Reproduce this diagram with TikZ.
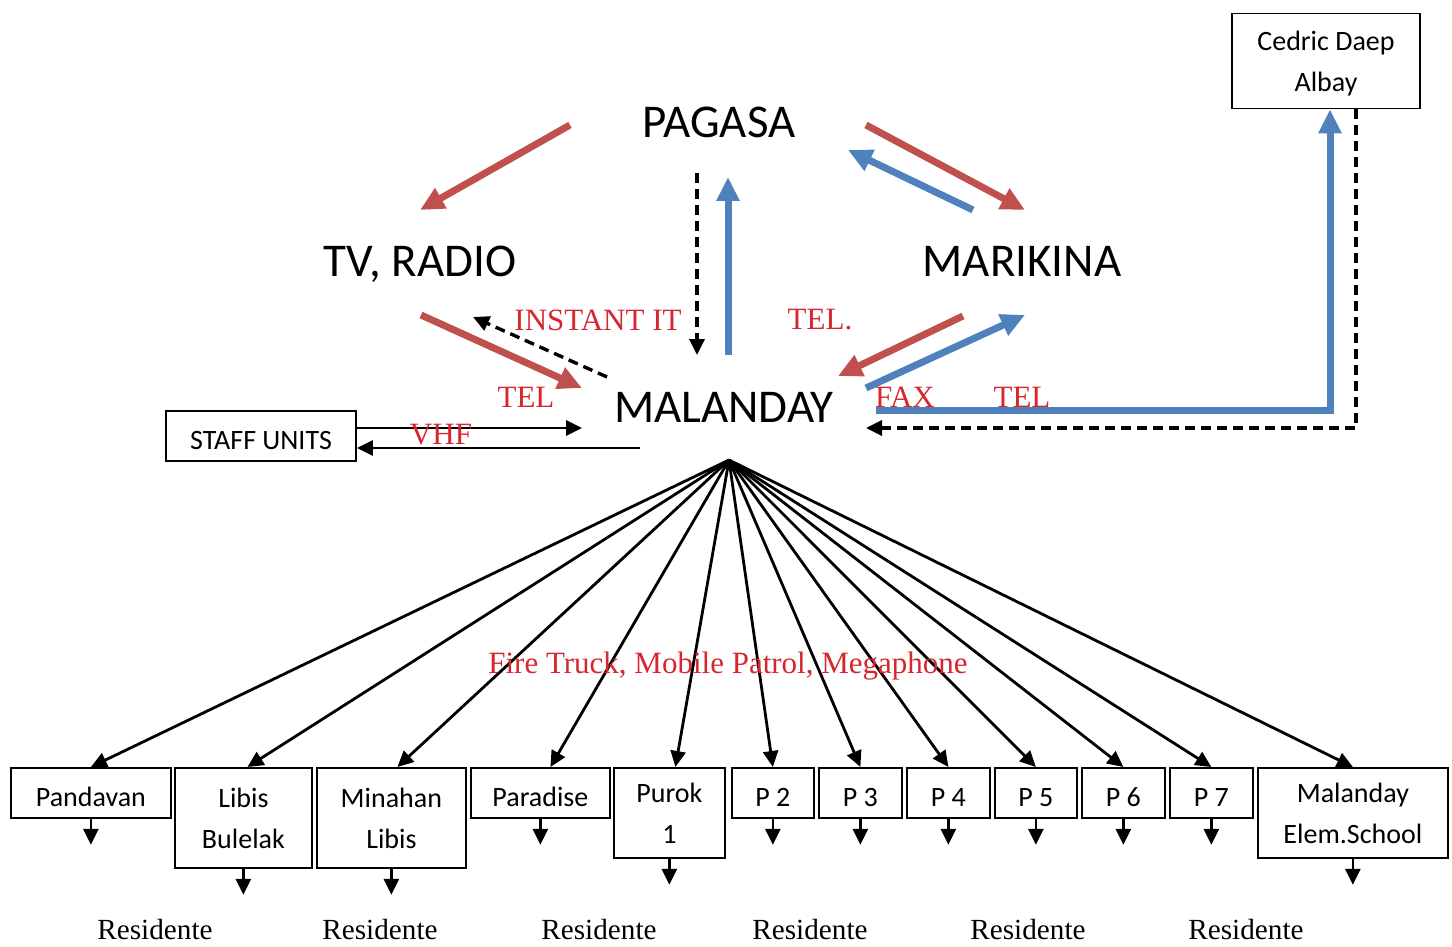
\documentclass[tikz,border=0pt]{standalone}
\usepackage{fontspec}
\setmainfont{Liberation Serif}
\newfontfamily\calibri{Carlito}
\usetikzlibrary{arrows.meta}
\definecolor{linkred}{RGB}{192,80,77}
\definecolor{linkblue}{RGB}{79,129,189}
\definecolor{labelred}{RGB}{214,38,46}
\tikzset{
  big/.style={font=\calibri\fontsize{23.5}{28}\selectfont, text depth=0pt},
  box/.style={draw, line width=0.9pt, anchor=north west, inner sep=0pt, align=center,
    font=\calibri\fontsize{14}{20.5}\selectfont},
  onebox/.style={box, text height=13.5pt, text depth=0pt},
  tag/.style={text=labelred, font=\fontsize{15.5}{18}\selectfont},
  res/.style={font=\fontsize{14.6}{17}\selectfont},
  redarr/.style={linkred, line width=3.5pt, -{Triangle[length=12pt,width=11pt]}},
  bluearr/.style={linkblue, line width=3.5pt, -{Triangle[length=12pt,width=11pt]}},
  blk/.style={line width=1.4pt, -{Triangle[length=8pt,width=7.5pt]}},
  blkdash/.style={blk, line width=1.7pt, dash pattern=on 5pt off 3pt},
}
\begin{document}
\begin{tikzpicture}[x=0.5pt, y=-0.5pt]
      \useasboundingbox (0,0) rectangle (1452,947);
      \node[big] (pagasa) at (719,122) {PAGASA};
      \node[big] (tv) at (420,261) {TV, RADIO};
      \node[big] (marikina) at (1022,261) {MARIKINA};
      \node[big] (malanday) at (724,407) {MALANDAY};
      \node[box, anchor=center, text depth=0pt, minimum width=94pt, minimum height=47.5pt] (cedric) at (1326,61) {Cedric Daep\\Albay};
      \node[onebox, anchor=center, minimum width=95pt, minimum height=25pt] (staff) at (261,436) {STAFF UNITS};
      \coordinate (hub) at (729,460);
      % barangay units
      \node[onebox, minimum width=80pt, minimum height=25pt] (pandavan) at (10,767) {Pandavan};
      \node[box, minimum width=68.5pt, minimum height=50pt] (libis) at (174,767) {Libis\\Bulelak};
      \node[box, minimum width=74.5pt, minimum height=50pt] (minahan) at (316,767) {Minahan\\Libis};
      \node[onebox, minimum width=69.5pt, minimum height=25pt] (paradise) at (470,767) {Paradise};
      \node[box, minimum width=55.5pt, minimum height=45pt] (purok) at (613,767) {Purok\\1};
      \node[onebox, minimum width=41pt, minimum height=25pt] (ptwo) at (731,767) {P 2};
      \node[onebox, minimum width=41.5pt, minimum height=25pt] (pthree) at (818,767) {P 3};
      \node[onebox, minimum width=41.5pt, minimum height=25pt] (pfour) at (906,767) {P 4};
      \node[onebox, minimum width=41pt, minimum height=25pt] (pfive) at (994,767) {P 5};
      \node[onebox, minimum width=41.5pt, minimum height=25pt] (psix) at (1081,767) {P 6};
      \node[onebox, minimum width=41.5pt, minimum height=25pt] (pseven) at (1169,767) {P 7};
      \node[box, minimum width=95pt, minimum height=45pt] (school) at (1257,767) {Malanday\\Elem.School};
      \node[res] (resA) at (155,930) {Residente};
      \node[res] (resB) at (380,930) {Residente};
      \node[res] (resC) at (599,930) {Residente};
      \node[res] (resD) at (810,930) {Residente};
      \node[res] (resE) at (1028,930) {Residente};
      \node[res] (resF) at (1246,930) {Residente};
      % links between offices
      \draw[redarr] ([shift={(-149,3)}]pagasa.center) -- ([shift={(0,-51)}]tv.center);
      \draw[redarr] ([shift={(147,3)}]pagasa.center) -- ([shift={(3,-51)}]marikina.center);
      \draw[bluearr] ([shift={(-49,-51)}]marikina.center) -- ([shift={(129,28)}]pagasa.center);
      \draw[blkdash] ([shift={(-22,51)}]pagasa.center) -- ([shift={(-27,-52)}]malanday.center);
      \draw[bluearr] ([shift={(4,-52)}]malanday.center) -- ([shift={(9,55)}]pagasa.center);
      \draw[redarr] ([shift={(1,54)}]tv.center) -- ([shift={(-142,-19)}]malanday.center);
      \draw[blkdash] ([shift={(-117,-30)}]malanday.center) -- ([shift={(53,56)}]tv.center);
      \draw[redarr] ([shift={(-59,55)}]marikina.center) -- ([shift={(114,-31)}]malanday.center);
      \draw[bluearr] ([shift={(142,-19)}]malanday.center) -- ([shift={(3,54)}]marikina.center);
      \draw[bluearr] ([shift={(152,3)}]malanday.center) -| ([shift={(4,0)}]cedric.south);
      \draw[blkdash] ([shift={(30,0)}]cedric.south) |- ([shift={(142,21)}]malanday.center);
      \draw[blk] ([shift={(0,-8)}]staff.east) -- ([shift={(-142,21)}]malanday.center);
      \draw[blk] ([shift={(-84,41)}]malanday.center) -- ([shift={(0,12)}]staff.east);
      % fan to the units
      \draw[blk] (hub) -- (pandavan.north);
      \draw[blk] (hub) -- ([xshift=2pt]libis.north);
      \draw[blk] (hub) -- ([xshift=3pt]minahan.north);
      \draw[blk] (hub) -- ([xshift=5pt]paradise.north);
      \draw[blk] (hub) -- ([xshift=3pt]purok.north);
      \draw[blk] (hub) -- (ptwo.north);
      \draw[blk] (hub) -- (pthree.north);
      \draw[blk] (hub) -- (pfour.north);
      \draw[blk] (hub) -- (pfive.north);
      \draw[blk] (hub) -- (psix.north);
      \draw[blk] (hub) -- (pseven.north);
      \draw[blk] (hub) -- (school.north);
      % to the residents
      \draw[blk] (pandavan.south) -- ([yshift=-13pt]pandavan.south);
      \draw[blk] (libis.south) -- ([yshift=-13pt]libis.south);
      \draw[blk] (minahan.south) -- ([yshift=-13pt]minahan.south);
      \draw[blk] (paradise.south) -- ([yshift=-13pt]paradise.south);
      \draw[blk] (purok.south) -- ([yshift=-13pt]purok.south);
      \draw[blk] (ptwo.south) -- ([yshift=-13pt]ptwo.south);
      \draw[blk] (pthree.south) -- ([yshift=-13pt]pthree.south);
      \draw[blk] (pfour.south) -- ([yshift=-13pt]pfour.south);
      \draw[blk] (pfive.south) -- ([yshift=-13pt]pfive.south);
      \draw[blk] (psix.south) -- ([yshift=-13pt]psix.south);
      \draw[blk] (pseven.south) -- ([yshift=-13pt]pseven.south);
      \draw[blk] (school.south) -- ([yshift=-13pt]school.south);
      % means of contact
      \node[tag] (instant) at (598,320) {INSTANT IT};
      \node[tag] (telA) at (820,320) {TEL.};
      \node[tag] (telB) at (526,397) {TEL};
      \node[tag] (fax) at (905,397) {FAX};
      \node[tag] (telC) at (1022,397) {TEL};
      \node[tag] (vhf) at (441,435) {VHF};
      \node[tag] (modes) at (728,666) {Fire Truck, Mobile Patrol, Megaphone};
    \end{tikzpicture}
\end{document}
